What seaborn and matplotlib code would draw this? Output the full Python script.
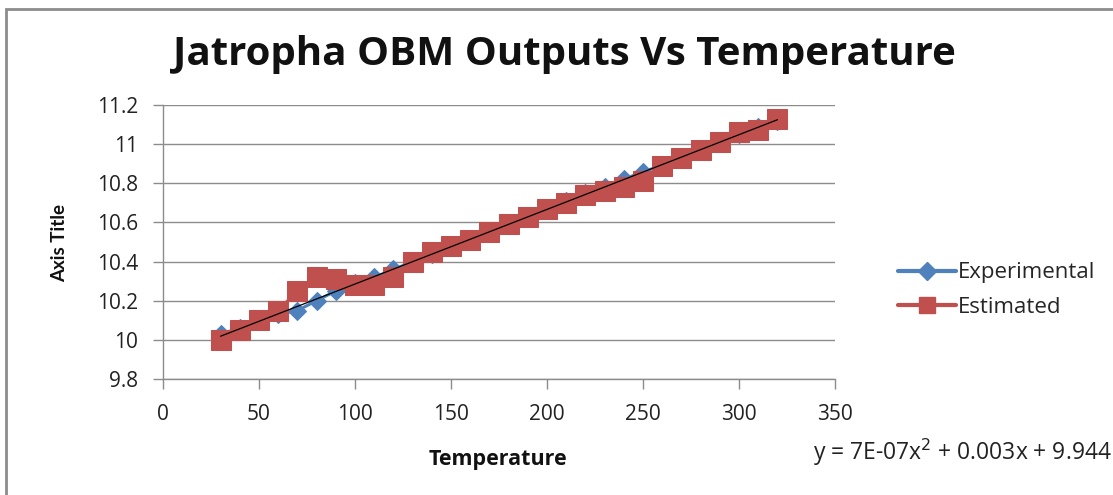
import matplotlib
matplotlib.use("Agg")
import matplotlib.pyplot as plt
from matplotlib.patches import Rectangle
from matplotlib.lines import Line2D
import numpy as np
import seaborn as sns

sns.set_theme(style="white")
plt.rcParams['font.family'] = ['Open Sans', 'DejaVu Sans']

temperature = [30, 40, 50, 60, 70, 80, 90, 100, 110, 120, 130, 140, 150, 160, 170,
               180, 190, 200, 210, 220, 230, 240, 250, 260, 270, 280, 290, 300, 310, 320]
experimental = [10.03, 10.06, 10.10, 10.13, 10.15, 10.20, 10.25, 10.29, 10.32, 10.36,
                10.40, 10.44, 10.48, 10.51, 10.55, 10.59, 10.63, 10.67, 10.71, 10.75,
                10.78, 10.82, 10.86, 10.89, 10.93, 10.97, 11.01, 11.05, 11.09, 11.12]
estimated = [10.00, 10.05, 10.10, 10.15, 10.25, 10.32, 10.31, 10.28, 10.28, 10.32,
             10.40, 10.45, 10.48, 10.51, 10.55, 10.59, 10.63, 10.67, 10.70, 10.74,
             10.76, 10.78, 10.81, 10.89, 10.93, 10.97, 11.01, 11.06, 11.07, 11.13]
x_ticks = [0, 50, 100, 150, 200, 250, 300, 350]
y_ticks = [9.8, 10, 10.2, 10.4, 10.6, 10.8, 11, 11.2]
y_tick_labels = ['9.8', '10', '10.2', '10.4', '10.6', '10.8', '11', '11.2']

BLUE = '#4F81BD'
RED = '#C0504D'
GRID = '#8c8c8c'

fig = plt.figure(figsize=(11.13, 4.95), dpi=100)
ax = fig.add_axes([163 / 1113, 1 - 379 / 495, (835 - 163) / 1113, (379 - 105) / 495])

# outer chart border
fig.patches.append(Rectangle((6 / 1113, -0.1), 1.2, 1 - 9 / 495 + 0.1,
                             transform=fig.transFigure, fill=False,
                             edgecolor='#8c8c8c', linewidth=2))

sns.lineplot(x=temperature, y=experimental, ax=ax, color=BLUE, linewidth=2.2,
             marker='D', markersize=9, markeredgecolor=BLUE)
sns.lineplot(x=temperature, y=estimated, ax=ax, color=RED, linewidth=2.2,
             marker='s', markersize=14, markeredgecolor=RED)

# polynomial trendline (order 2)
coef = np.polyfit(temperature, experimental, 2)
tx = np.linspace(min(temperature), max(temperature), 100)
ax.plot(tx, np.polyval(coef, tx), color='black', linewidth=0.9)

ax.set_xlim(0, 350)
ax.set_ylim(9.8, 11.2)
ax.set_xticks(x_ticks)
ax.set_yticks(y_ticks)
ax.set_yticklabels(y_tick_labels)
ax.tick_params(axis='both', labelsize=15, colors='#222222', length=7,
               width=1, direction='out', left=True, bottom=True, pad=11)
ax.tick_params(axis='both', color=GRID)
ax.grid(axis='y', color=GRID, linewidth=1)
ax.set_axisbelow(True)
for side in ['top', 'right']:
    ax.spines[side].set_visible(False)
for side in ['left', 'bottom']:
    ax.spines[side].set_color(GRID)
    ax.spines[side].set_linewidth(1)

fig.text(564 / 1113, 1 - 55 / 495, 'Jatropha OBM Outputs Vs Temperature',
         ha='center', va='center', fontsize=29, fontweight='bold', color='#111111')
fig.text(60 / 1113, 1 - 243 / 495, 'Axis Title', rotation=90, ha='center',
         va='center', fontsize=13.5, fontweight='bold', color='#111111',
         family=['Lato', 'DejaVu Sans'])
fig.text(498 / 1113, 1 - 460 / 495, 'Temperature', ha='center', va='center',
         fontsize=15.5, fontweight='bold', color='#111111')
fig.text(813 / 1113, 1 - 452 / 495, 'y = 7E-07x$^{2}$ + 0.003x + 9.944',
         ha='left', va='center', fontsize=16.5, color='#222222')

handles = [Line2D([], [], color=BLUE, linewidth=3, marker='D', markersize=9),
           Line2D([], [], color=RED, linewidth=3, marker='s', markersize=12)]
fig.legend(handles, ['Experimental', 'Estimated'], loc='center left',
           bbox_to_anchor=(878 / 1113, 1 - 290 / 495), frameon=False,
           fontsize=16, handlelength=2.6, handletextpad=0.1, labelspacing=0.6)

fig.savefig('out.png', dpi=100)
